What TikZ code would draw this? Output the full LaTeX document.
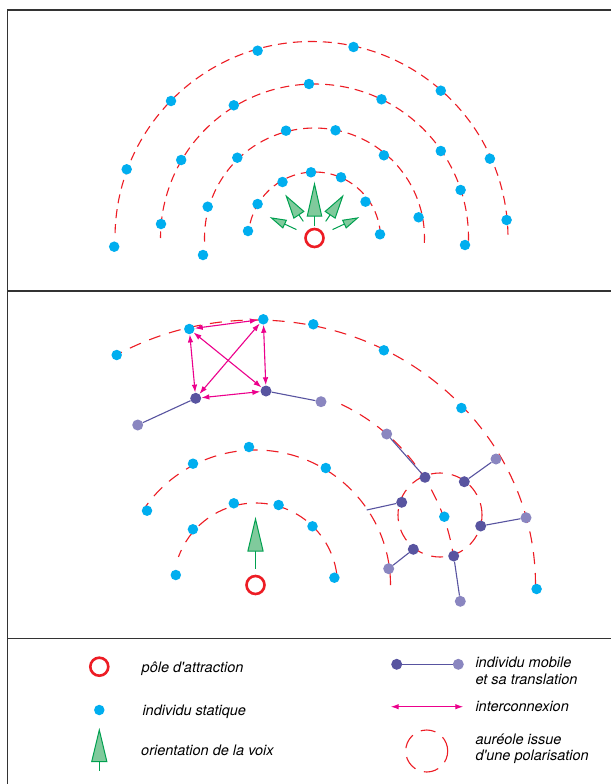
\documentclass[tikz,border=0pt]{standalone}
\usepackage{fontspec}
\setmainfont{TeX Gyre Heros}
\usetikzlibrary{arrows.meta}

\definecolor{polered}{RGB}{237,28,36}
\definecolor{statcyan}{RGB}{0,174,239}
\definecolor{mobdark}{RGB}{88,84,160}
\definecolor{moblight}{RGB}{138,134,192}
\definecolor{intermag}{RGB}{236,0,140}
\definecolor{voixgreen}{RGB}{0,160,80}
\definecolor{voixfill}{RGB}{128,202,156}

\tikzset{
    statique/.style={circle,fill=statcyan,inner sep=0pt,minimum size=10.5pt},
    mobile/.style={circle,fill=mobdark,inner sep=0pt,minimum size=11pt},
    transl/.style={circle,fill=moblight,inner sep=0pt,minimum size=11pt},
    pole/.style={circle,draw=polered,line width=2.6pt,inner sep=0pt,minimum size=18pt},
    aureole/.style={draw=polered,line width=1.1pt,dash pattern=on 9pt off 6pt},
    aureolebig/.style={draw=polered,line width=1.1pt,dash pattern=on 12pt off 9pt},
    lien/.style={draw=mobdark,line width=1.1pt},
    inter/.style={draw=intermag,line width=1.1pt,
        {Latex[length=8pt,width=5.5pt]}-{Latex[length=8pt,width=5.5pt]}},
    voixline/.style={draw=voixgreen,line width=1pt,fill=voixfill},
    legtext/.style={font=\fontsize{14.5}{16.7}\selectfont\itshape,anchor=base west,inner sep=0pt},
    cadre/.style={line width=1.4pt,draw=black!80}
}

% voice arrow: #1 pole, #2 angle, #3 stem start, #4 base, #5 tip, #6 half width
\newcommand{\voix}[6]{
    \begin{scope}[shift={(#1)},rotate=#2]
        \draw[voixline] (#3,0) -- (#4,0);
        \filldraw[voixline] (#4,-#6) -- (#5,0) -- (#4,#6) -- cycle;
    \end{scope}
}

\begin{document}
\begin{tikzpicture}[x=1pt,y=1pt]
    \fill[white] (0,0) rectangle (611,-784);
    \useasboundingbox (0,0) rectangle (611,-784);

    % frame
    \draw[cadre] (7.5,-784) -- (7.5,-10) -- (611,-10);
    \draw[cadre] (7.5,-291) -- (611,-291);
    \draw[cadre] (7.5,-638.5) -- (611,-638.5);

    %%% top panel
    \node[pole] (p1) at (314.5,-238) {};
    \coordinate (p1b) at (311.5,-238);

    \draw[aureole] (p1) ++(3:66) arc[start angle=3,end angle=174,radius=66];
    \draw[aureole] (p1) ++(-2.5:110) arc[start angle=-2.5,end angle=182.5,radius=110];
    \draw[aureole] (p1) ++(-1:154) arc[start angle=-1,end angle=180,radius=154];
    \draw[aureole] (p1b) ++(1:196.5) arc[start angle=1,end angle=180,radius=196.5];

    \foreach \x/\y [count=\i] in {
        248/231, 257.6/204, 282.5/182, 311/172.3, 341/177.3, 365.5/201.7, 380/234.3,
        207.7/206.7, 237.3/157.7, 286/130.7, 335.5/130.3, 383.9/155.3, 418.6/217.3, 203/255,
        309/84, 233.8/105.3, 181.2/160, 161/224, 381.5/99.3, 440.8/151, 460.6/190, 465/245,
        257.6/50.7, 353.5/47, 440.8/90.7, 489.9/158.7, 506.6/220, 171/101, 126.7/169.3, 114.2/246.7}
        \node[statique] (st\i) at (\x,-\y) {};

    \voix{p1}{90}{12}{22}{54}{7.2}
    \voix{p1}{124}{20}{28}{50.5}{6}
    \voix{p1}{56}{20}{28}{50.5}{6}
    \voix{p1}{155}{20}{33}{47.5}{4.2}
    \voix{p1}{25}{20}{33}{47.5}{4.2}

    %%% middle panel
    \node[pole] (p2) at (255.5,-585) {};
    \coordinate (hc) at (440,-515);

    \draw[aureolebig] (p2) ++(8:82) arc[start angle=8,end angle=160,radius=82];
    \draw[aureolebig] (p2) ++(0:135) arc[start angle=0,end angle=146,radius=135];
    \draw[aureolebig] (p2) ++(0:280 and 265) arc[start angle=0,end angle=120,x radius=280,y radius=265];
    \draw[aureolebig] (p2) ++(7:200) arc[start angle=7,end angle=67,radius=200];
    \draw[aureolebig] (hc) circle (42); % halo

    \foreach \x/\y [count=\i] in {
        116.7/355, 189.3/329, 263.3/319.3, 313.3/324.3, 383.9/350.3, 461.4/408, 536.6/589,
        249/447, 193/463.7, 325.8/468, 147/510.7,
        233.8/503.3, 278.6/505, 192.9/529.3, 312.5/526.3, 175.8/575, 334.4/577.7,
        444.3/516.7}
        \node[statique] (sm\i) at (\x,-\y) {};

    \foreach \i/\x/\y in {1/425/477.3, 2/464.3/481.7, 3/401.7/502.3, 4/480.7/526,
        5/413.3/549.3, 6/453.7/556, 7/195.7/398.3, 8/266/391}
        \node[mobile] (m\i) at (\x,-\y) {};
    \foreach \i/\x/\y in {1/386.7/434, 2/496/459, 4/526/517.7,
        5/388.7/568.7, 6/460.3/601.3, 7/137.7/425, 8/321/401.7}
        \node[transl] (t\i) at (\x,-\y) {};
    \coordinate (t3) at (366.7,-510);

    \foreach \i in {1,...,8}
        \draw[lien] (m\i) -- (t\i);

    \draw[inter] (sm2) -- (sm3);
    \draw[inter] (sm2) -- (m7);
    \draw[inter] (sm3) -- (m8);
    \draw[inter] (m7) -- (m8);
    \draw[inter] (sm2) -- (m8);
    \draw[inter] (sm3) -- (m7);

    \voix{p2}{90}{16.5}{34}{66}{7.6}

    %%% legend
    \node[pole] (lp) at (99.3,-666.7) {};
    \node[statique] (ls) at (99.3,-710) {};
    \coordinate (lv) at (99.3,-770.7);
    \voix{lv}{90}{0}{9}{40.7}{7.6}

    \node[mobile] (lm) at (396.7,-664.3) {};
    \node[transl] (ltr) at (458.3,-664.3) {};
    \draw[lien] (lm) -- (ltr);
    \coordinate (ia) at (390.7,-706.7);
    \coordinate (ib) at (463.3,-706.7);
    \draw[inter] (ia) -- (ib);
    \draw[aureole,dash pattern=on 15pt off 9pt] (426.7,-751) circle (21);

    \node[legtext] (lt1) at (141.5,-672.3) {pôle d\textquotesingle attraction};
    \node[legtext] (lt2) at (142.3,-715) {individu statique};
    \node[legtext] (lt3) at (141,-755) {orientation de la voix};
    \node[legtext,align=left] (lt4) at (475.3,-684.3) {individu mobile\\et sa translation};
    \node[legtext] (lt5) at (475.3,-711.7) {interconnexion};
    \node[legtext,align=left] (lt6) at (475.3,-760.7) {auréole issue\\d\textquotesingle une polarisation};
\end{tikzpicture}
\end{document}
